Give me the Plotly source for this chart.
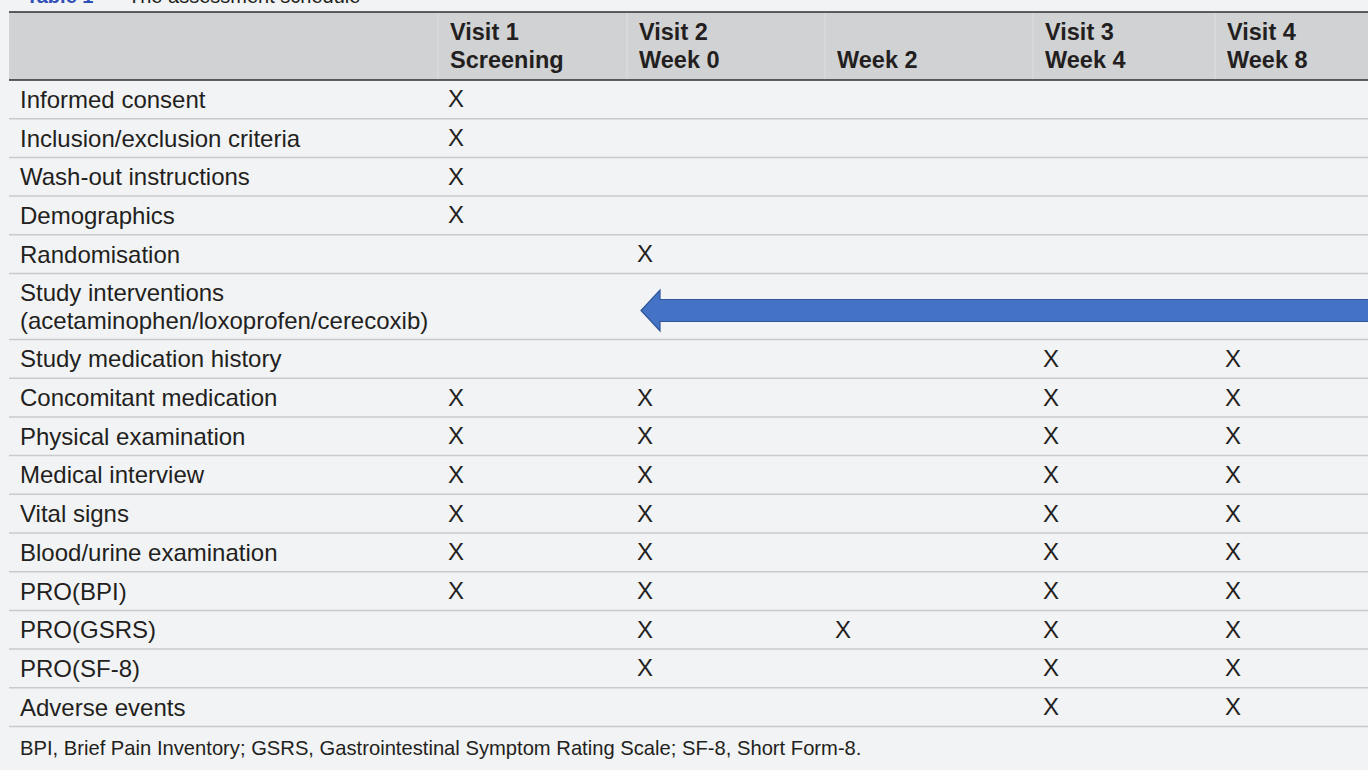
import plotly.graph_objects as go

# ---------------- data ----------------
title_label = "Table 1"
title_text = "The assessment schedule"

header_line1 = ["Visit 1", "Visit 2", "", "Visit 3", "Visit 4"]
header_line2 = ["Screening", "Week 0", "Week 2", "Week 4", "Week 8"]

row_labels = [
    "Informed consent",
    "Inclusion/exclusion criteria",
    "Wash-out instructions",
    "Demographics",
    "Randomisation",
    "Study interventions<br>(acetaminophen/loxoprofen/cerecoxib)",
    "Study medication history",
    "Concomitant medication",
    "Physical examination",
    "Medical interview",
    "Vital signs",
    "Blood/urine examination",
    "PRO(BPI)",
    "PRO(GSRS)",
    "PRO(SF-8)",
    "Adverse events",
]

# 1 = "X" in that visit column
marks = [
    [1, 0, 0, 0, 0],
    [1, 0, 0, 0, 0],
    [1, 0, 0, 0, 0],
    [1, 0, 0, 0, 0],
    [0, 1, 0, 0, 0],
    [0, 0, 0, 0, 0],
    [0, 0, 0, 1, 1],
    [1, 1, 0, 1, 1],
    [1, 1, 0, 1, 1],
    [1, 1, 0, 1, 1],
    [1, 1, 0, 1, 1],
    [1, 1, 0, 1, 1],
    [1, 1, 0, 1, 1],
    [0, 1, 1, 1, 1],
    [0, 1, 0, 1, 1],
    [0, 0, 0, 1, 1],
]

# arrow row: study interventions run from this column to the end of the table
arrow_row = 5
arrow_start_col = 1

footnote = ("BPI, Brief Pain Inventory; GSRS, Gastrointestinal Symptom Rating Scale; "
            "SF-8, Short Form-8.")

# ---------------- layout constants ----------------
W, H = 1368, 770
FONT = "Liberation Sans, Arial, Helvetica, sans-serif"
TXT = "#231f20"
BG = "#f2f3f5"
HEAD_BG = "#d1d2d4"
SEP = "#c9cacc"

table_left = 9
label_pad = 11
col_edges = [438, 627, 825, 1033, 1215]   # left edges of visit columns
head_top, head_bot = 12, 80
row_h = 38.7
row_h2 = 66
fs = 24
fs_head = 23.5
fs_foot = 20.2

# row boundaries
bounds = [head_bot]
for lab in row_labels:
    bounds.append(bounds[-1] + (row_h2 if "<br>" in lab else row_h))

fig = go.Figure()
shapes = []
ann = []

# header background + rules
shapes.append(dict(type="rect", x0=table_left, x1=W + 5, y0=head_top, y1=head_bot,
                   fillcolor=HEAD_BG, line_width=0, layer="below"))
for ce in col_edges:
    shapes.append(dict(type="line", x0=ce, x1=ce, y0=head_top, y1=head_bot,
                       line=dict(color="#dedfe1", width=1)))
for yy in (head_top, head_bot):
    shapes.append(dict(type="line", x0=table_left, x1=W + 5, y0=yy, y1=yy,
                       line=dict(color="#2e2e30", width=1.6)))

# row separators
for yy in bounds[1:]:
    shapes.append(dict(type="line", x0=table_left, x1=W + 5, y0=yy, y1=yy,
                       line=dict(color=SEP, width=1.5)))

# header text
for i, (l1, l2) in enumerate(zip(header_line1, header_line2)):
    x = col_edges[i] + label_pad - 1
    if l1:
        ann.append(dict(x=x, y=32, text="<b>%s</b>" % l1, xanchor="left", yanchor="middle",
                        showarrow=False, font=dict(size=fs_head, color=TXT, family=FONT)))
    ann.append(dict(x=x, y=60, text="<b>%s</b>" % l2, xanchor="left", yanchor="middle",
                    showarrow=False, font=dict(size=fs_head, color=TXT, family=FONT)))

# row labels
for r, lab in enumerate(row_labels):
    y0, y1 = bounds[r], bounds[r + 1]
    lines = lab.split("<br>")
    if len(lines) == 1:
        ys = [(y0 + y1) / 2]
    else:
        c = (y0 + y1) / 2
        ys = [c - 14, c + 14]
    for ln, yy in zip(lines, ys):
        ann.append(dict(x=table_left + label_pad - 2, y=yy, text=ln, xanchor="left",
                        yanchor="middle", showarrow=False,
                        font=dict(size=fs, color=TXT, family=FONT)))

# X marks through a text trace
mx, my = [], []
for r, row in enumerate(marks):
    for c, v in enumerate(row):
        if v:
            mx.append(col_edges[c] + label_pad + 7)
            my.append((bounds[r] + bounds[r + 1]) / 2 + 2)
fig.add_trace(go.Scatter(x=mx, y=my, mode="text", text=["X"] * len(mx),
                         textposition="middle center",
                         textfont=dict(size=fs, color=TXT, family=FONT),
                         hoverinfo="skip", showlegend=False))

# arrow
cy = (bounds[arrow_row] + bounds[arrow_row + 1]) / 2 + 4
tip = col_edges[arrow_start_col] + 14
head_len = 19
sh, hh = 11, 20.5
xe = W + 10
path = (f"M {xe},{cy - sh} L {tip + head_len},{cy - sh} L {tip + head_len},{cy - hh} "
        f"L {tip},{cy} L {tip + head_len},{cy + hh} L {tip + head_len},{cy + sh} "
        f"L {xe},{cy + sh} Z")
shapes.append(dict(type="path", path=path, fillcolor="#4472c4",
                   line=dict(color="#30569a", width=1.2)))

# footnote
ann.append(dict(x=table_left + label_pad - 2, y=(bounds[-1] + H) / 2, text=footnote,
                xanchor="left", yanchor="middle", showarrow=False,
                font=dict(size=fs_foot, color=TXT, family=FONT)))

# cut-off title at the top edge (as in the reference)
ann.append(dict(x=24, y=9, text="<b>%s</b>" % title_label, xanchor="left", yanchor="bottom",
                showarrow=False, font=dict(size=20, color="#2f4fb8", family=FONT)))
ann.append(dict(x=126, y=9, text=title_text, xanchor="left", yanchor="bottom",
                showarrow=False, font=dict(size=20, color=TXT, family=FONT)))

fig.update_layout(
    width=W, height=H, margin=dict(l=0, r=0, t=0, b=0),
    paper_bgcolor=BG, plot_bgcolor=BG,
    xaxis=dict(range=[0, W], visible=False, fixedrange=True),
    yaxis=dict(range=[H, 0], visible=False, fixedrange=True),
    shapes=shapes, annotations=ann, showlegend=False,
)
fig.write_html(
    "out.html",
    config={"displayModeBar": False},
    post_script="document.body.style.margin='0';document.body.style.overflow='hidden';"
                "document.body.style.background='%s';" % BG,
)
